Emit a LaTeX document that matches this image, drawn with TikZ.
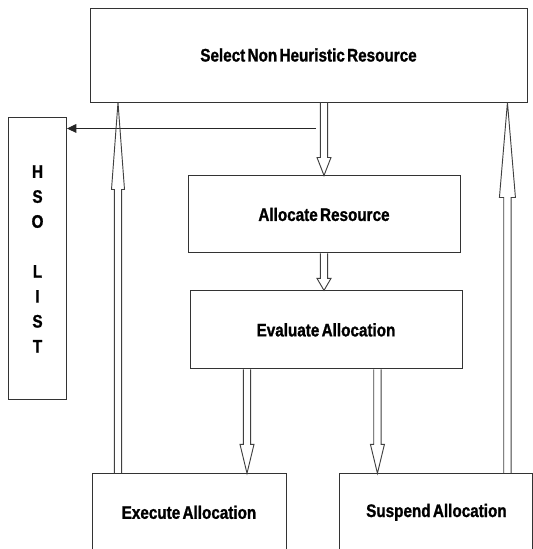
\documentclass[tikz,border=0pt]{standalone}
\usepackage{fontspec}
\newfontfamily\boxfont{Liberation Sans}[FakeStretch=0.84, FakeBold=1.2, WordSpace=0.55]
\usetikzlibrary{positioning, arrows.meta, calc}

% hollow (outlined) arrow: [head half width]{start}{tip}{head length}
\newcommand{\hollowarrow}[4][0.21cm]{%
    \draw[hollow] let \p1=(#2), \p2=(#3), \p3=($(#3)!#4!(#2)$) in
        (\x1-0.11cm,\y1) -- (\x1-0.11cm,\y3) -- (\x1-#1,\y3) -- (\x1,\y2)
        -- (\x1+#1,\y3) -- (\x1+0.11cm,\y3) -- (\x1+0.11cm,\y1);%
}

\begin{document}
\begin{tikzpicture}[
    node distance=0.3cm,
    box/.style={rectangle, draw=black!80, line width=0.8pt, inner sep=0pt,
        font=\boxfont\bfseries\fontsize{15.5}{18}\selectfont},
    arrow/.style={-{Triangle[length=8pt, width=7.5pt]}, line width=0.8pt, draw=black!85},
    hollow/.style={line width=0.8pt, draw=black!75},
]
\useasboundingbox (0,0) rectangle (15.99,-16.47);

%% BOXES
    \node[box, minimum width=13.11cm, minimum height=2.82cm] (select) at (9.255,-1.65) {Select Non Heuristic Resource};
    \node[box, minimum width=8.16cm, minimum height=2.31cm, below=2.19cm of select, xshift=0.465cm] (alloc) {Allocate Resource};
    \node[box, minimum width=8.16cm, minimum height=2.34cm, below=1.11cm of alloc, xshift=0.06cm] (eval) {Evaluate Allocation};
    \node[box, minimum width=5.82cm, minimum height=2.31cm, below=3.12cm of eval, xshift=-4.11cm] (exe) {Execute Allocation};
    \node[box, minimum width=5.79cm, minimum height=2.31cm, right=1.59cm of exe] (susp) {Suspend Allocation};

    % hso list
    \node[box, minimum width=1.74cm, minimum height=8.46cm, align=center,
        font=\boxfont\bfseries\fontsize{15.5}{21.3}\selectfont,
        below=0.45cm of select.south west, xshift=-1.56cm] (hso) {H\\S\\O\\[21.3pt]L\\I\\S\\T};

%% ARROWS
    \coordinate (split) at ([xshift=-0.24cm, yshift=-0.78cm]select.south -| alloc.north);
    \draw[arrow] (split) -- (split -| hso.east);

    \hollowarrow{select.south -| alloc.north}{alloc.north}{0.54cm}
    \hollowarrow{alloc.south}{alloc.south |- eval.north}{0.36cm}

    \coordinate (exein) at ([xshift=1.74cm]exe.north);
    \coordinate (suspin) at ([xshift=-1.77cm]susp.north);
    \hollowarrow{eval.south -| exein}{exein}{0.87cm}
    \hollowarrow{eval.south -| suspin}{suspin}{0.87cm}

    \coordinate (exeout) at ([xshift=-2.13cm]exe.north);
    \coordinate (suspout) at ([xshift=2.13cm]susp.north);
    \hollowarrow[0.195cm]{exeout}{exeout |- select.south}{2.61cm}
    \hollowarrow[0.24cm]{suspout}{suspout |- select.south}{2.85cm}

\end{tikzpicture}
\end{document}
